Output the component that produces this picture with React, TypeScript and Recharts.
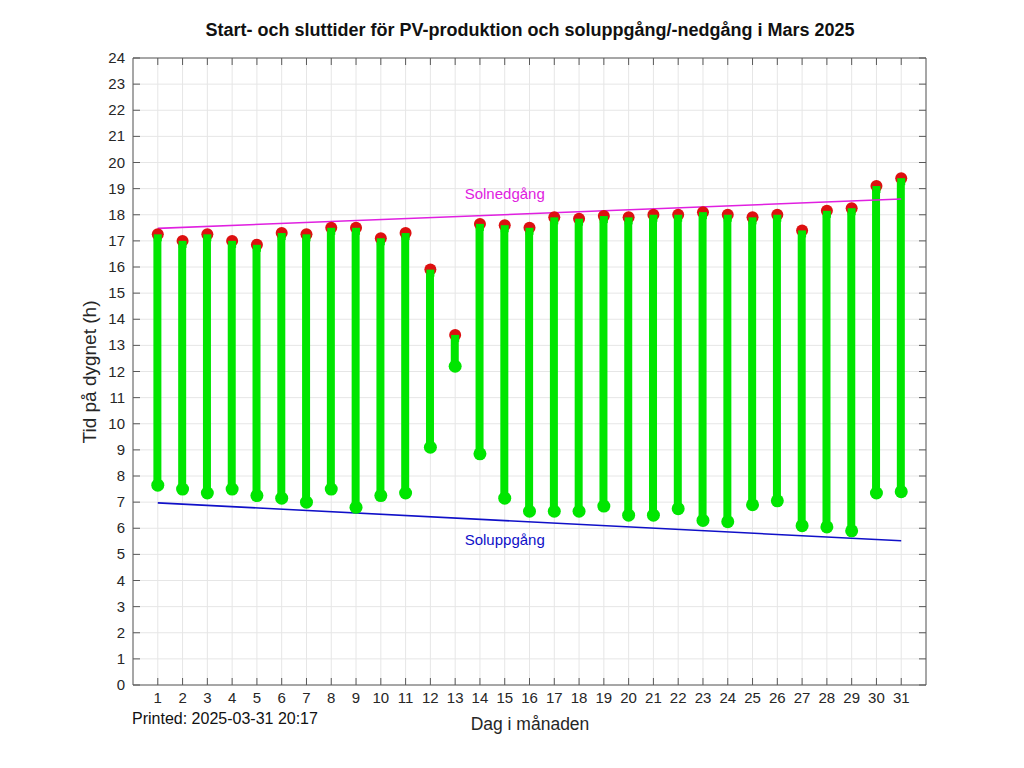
import { ComposedChart, Bar, Scatter, Line, XAxis, YAxis, CartesianGrid, ReferenceDot } from 'recharts';

const days = [1, 2, 3, 4, 5, 6, 7, 8, 9, 10, 11, 12, 13, 14, 15, 16, 17, 18, 19, 20, 21, 22, 23, 24, 25, 26, 27, 28, 29, 30, 31];
const pvStart = [7.65, 7.5, 7.35, 7.5, 7.25, 7.15, 7.0, 7.5, 6.8, 7.25, 7.35, 9.1, 12.2, 8.85, 7.15, 6.65, 6.65, 6.65, 6.85, 6.5, 6.5, 6.75, 6.3, 6.25, 6.9, 7.05, 6.1, 6.05, 5.9, 7.35, 7.4];
const pvEnd = [17.25, 17.0, 17.25, 17.0, 16.85, 17.3, 17.25, 17.5, 17.5, 17.1, 17.3, 15.9, 13.4, 17.65, 17.6, 17.5, 17.9, 17.85, 17.95, 17.9, 18.0, 18.0, 18.1, 18.0, 17.9, 18.0, 17.4, 18.15, 18.25, 19.1, 19.4];

const sunDays = [1, 31];
const sunrise = [6.97, 5.52];
const sunset = [17.48, 18.6];

const hourTicks = [0, 1, 2, 3, 4, 5, 6, 7, 8, 9, 10, 11, 12, 13, 14, 15, 16, 17, 18, 19, 20, 21, 22, 23, 24];

const rows = days.map((d, i) => ({ day: d, range: [pvStart[i], pvEnd[i]] }));
const startPts = days.map((d, i) => ({ day: d, h: pvStart[i] }));
const endPts = days.map((d, i) => ({ day: d, h: pvEnd[i] }));
const sunriseLine = sunDays.map((d, i) => ({ day: d, h: sunrise[i] }));
const sunsetLine = sunDays.map((d, i) => ({ day: d, h: sunset[i] }));

const FONT = '"Liberation Sans", Arial, Helvetica, sans-serif';
const TXT = '#262626';
const AX = '#5a5a5a';
const GREEN = '#00e600';
const RED = '#dd1010';

const BottomTick = ({ x, y, payload }: any) => (
    <g>
        <line x1={x} y1={685} x2={x} y2={678} stroke={AX} />
        <text x={x} y={703} textAnchor="middle" fontSize={15} fill={TXT} fontFamily={FONT}>{payload.value}</text>
    </g>
);
const TopTick = ({ x }: any) => <line x1={x} y1={58} x2={x} y2={65} stroke={AX} />;
const LeftTick = ({ y, payload }: any) => (
    <g>
        <line x1={133} y1={y} x2={140} y2={y} stroke={AX} />
        <text x={125} y={y + 5} textAnchor="end" fontSize={15} fill={TXT} fontFamily={FONT}>{payload.value}</text>
    </g>
);
const RightTick = ({ y }: any) => <line x1={926} y1={y} x2={919} y2={y} stroke={AX} />;

// red end marker: the green bar overlaps its lower half
const EndDot = (p: any) => (
    <g>
        <circle cx={p.cx} cy={p.cy} r={6} fill={RED} />
        <rect x={p.cx - 4} y={p.cy} width={8} height={7} fill={GREEN} />
    </g>
);
const StartDot = (p: any) => <circle cx={p.cx} cy={p.cy} r={6.5} fill={GREEN} />;

const App = () => {
    return (
        <div style={{ position: 'absolute', left: 0, top: 0, width: 1024, height: 768, background: '#fff', fontFamily: FONT }}>
            <ComposedChart
                width={1024}
                height={768}
                data={rows}
                margin={{ top: 57, right: 97, left: 132, bottom: 82 }}
                barSize={8}
            >
                <CartesianGrid stroke="#e6e6e6" />
                <XAxis dataKey="day" type="number" domain={[0, 32]} ticks={days} interval={0} height={1}
                    tickLine={false} tickSize={0} tickMargin={0} tick={<BottomTick />} stroke={AX} allowDataOverflow />
                <XAxis xAxisId="top" orientation="top" dataKey="day" type="number" domain={[0, 32]} ticks={days} interval={0} height={1}
                    tickLine={false} tickSize={0} tickMargin={0} tick={<TopTick />} stroke={AX} allowDataOverflow />
                <YAxis type="number" domain={[0, 24]} ticks={hourTicks} interval={0} width={1}
                    tickLine={false} tickSize={0} tickMargin={0} tick={<LeftTick />} stroke={AX} allowDataOverflow />
                <YAxis yAxisId="right" orientation="right" type="number" domain={[0, 24]} ticks={hourTicks} interval={0} width={1}
                    tickLine={false} tickSize={0} tickMargin={0} tick={<RightTick />} stroke={AX} allowDataOverflow />
                <Line data={sunsetLine} dataKey="h" stroke="#e020e0" strokeWidth={1.6} dot={false} isAnimationActive={false} />
                <Line data={sunriseLine} dataKey="h" stroke="#1010c8" strokeWidth={1.6} dot={false} isAnimationActive={false} />
                <Bar dataKey="range" fill={GREEN} isAnimationActive={false} />
                <Scatter data={endPts} dataKey="h" shape={EndDot} isAnimationActive={false} />
                <Scatter data={startPts} dataKey="h" shape={StartDot} isAnimationActive={false} />
                <ReferenceDot x={15} y={18.8} r={0} fill="none" stroke="none"
                    label={{ value: 'Solnedgång', fill: '#e020e0', fontSize: 15, position: 'center', fontFamily: FONT }} />
                <ReferenceDot x={15} y={5.55} r={0} fill="none" stroke="none"
                    label={{ value: 'Soluppgång', fill: '#1010c8', fontSize: 15, position: 'center', fontFamily: FONT }} />
            </ComposedChart>
            <div style={{ position: 'absolute', left: 0, width: 1060, top: 20, textAlign: 'center', fontSize: 18, fontWeight: 'bold', color: '#111' }}>
                Start- och sluttider för PV-produktion och soluppgång/-nedgång i Mars 2025
            </div>
            <div style={{ position: 'absolute', left: 0, width: 1060, top: 714, textAlign: 'center', fontSize: 17.5, color: TXT }}>
                Dag i månaden
            </div>
            <div style={{ position: 'absolute', left: 132, top: 710, fontSize: 16, color: '#111' }}>
                Printed: 2025-03-31 20:17
            </div>
            <div style={{ position: 'absolute', left: 90, top: 372, width: 0, height: 0 }}>
                <div style={{ position: 'absolute', transform: 'translate(-50%, -50%) rotate(-90deg)', whiteSpace: 'nowrap', fontSize: 19, color: TXT }}>
                    Tid på dygnet (h)
                </div>
            </div>
        </div>
    );
};

export default App;
